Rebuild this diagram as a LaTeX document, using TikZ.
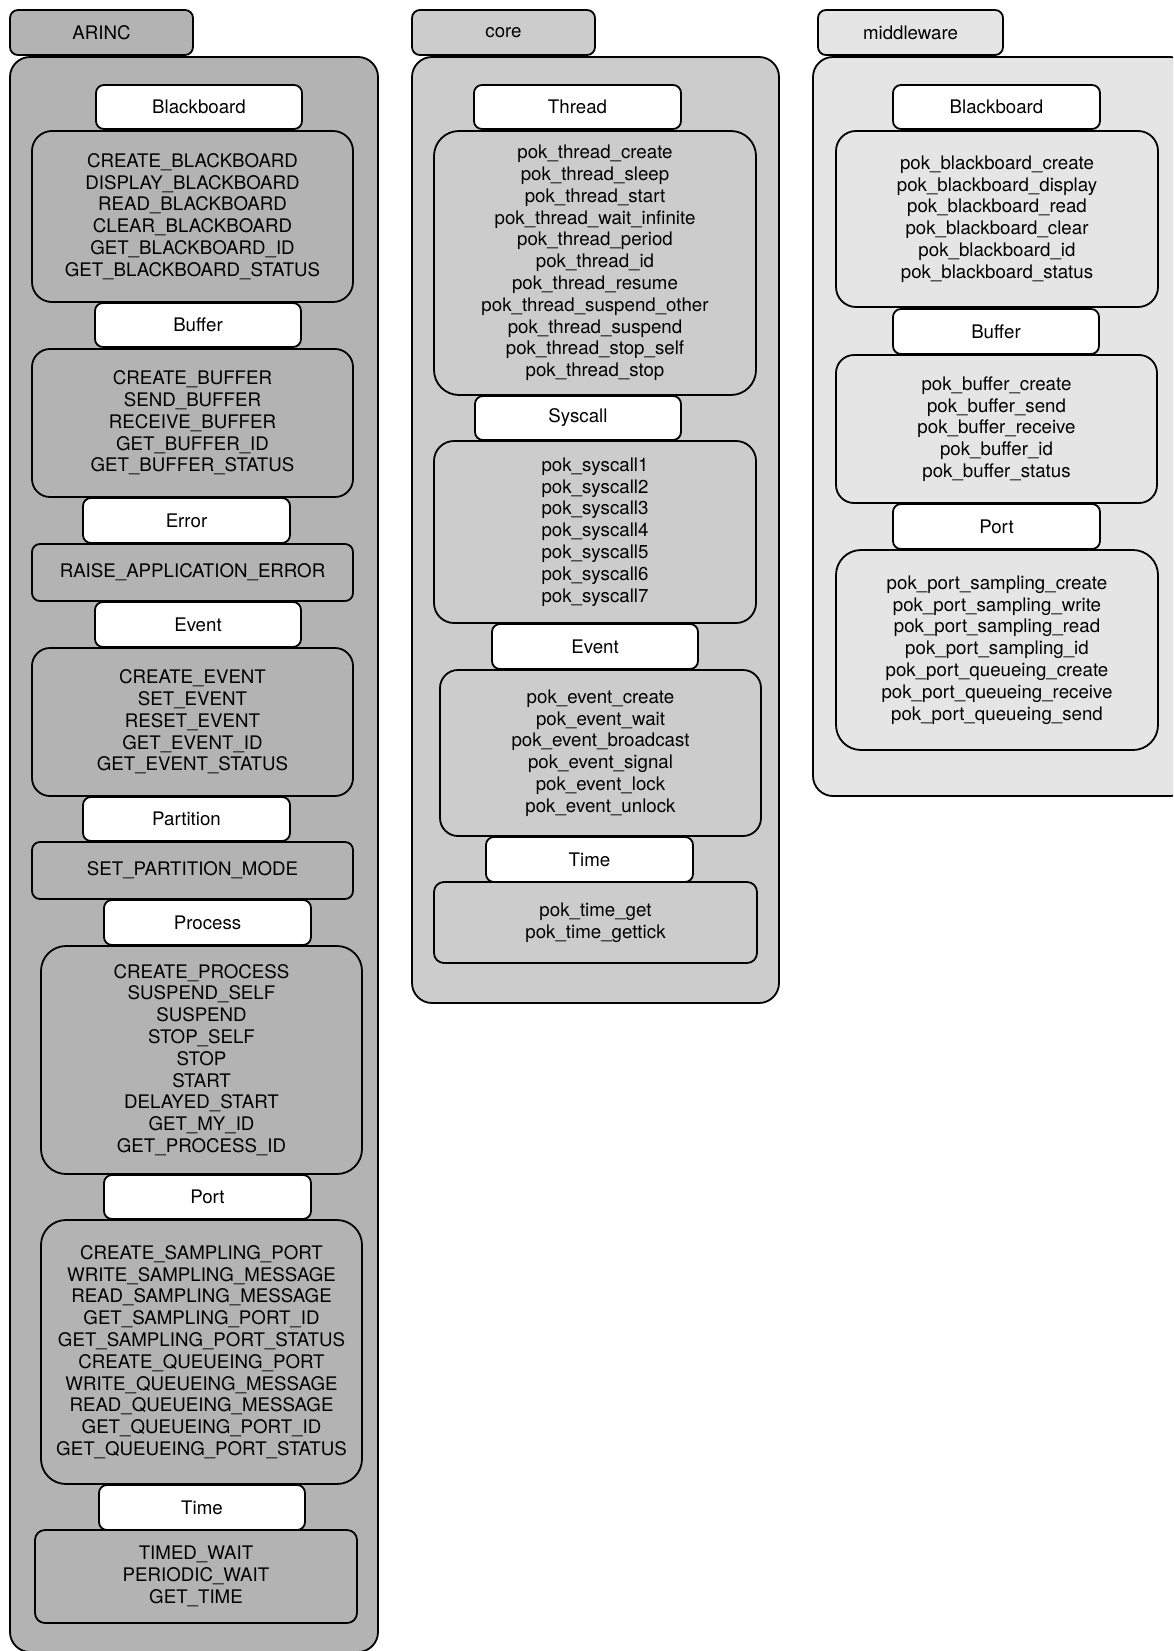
\documentclass[tikz,border=0pt]{standalone}
\usepackage{fontspec}
\setmainfont{TeX Gyre Heros}
\definecolor{arincgray}{HTML}{B3B3B3}
\definecolor{coregray}{HTML}{CCCCCC}
\definecolor{mwgray}{HTML}{E5E5E5}

\tikzset{
  base/.style={draw=black, line width=1.8pt, inner sep=0pt, align=center,
    font=\fontsize{18.7}{21.8}\selectfont},
  tabbox/.style={base, rounded corners=8pt},
  framebox/.style={base, rounded corners=20pt},
  titlebox/.style={base, fill=white, rounded corners=8pt},
  fnbox/.style={base, rounded corners=#1},
  fnbox/.default=20pt,
}

% \bx{name}{x1}{y1}{x2}{y2}{style}{text}: node filling the given box (y downwards)
\newcommand{\bx}[7]{%
  \pgfmathsetmacro\bxw{#4-#2}\pgfmathsetmacro\bxh{#5-#3}%
  \pgfmathsetmacro\bxcx{(#2+#4)/2}\pgfmathsetmacro\bxcy{(#3+#5)/2}%
  \node[#6, minimum width=\bxw pt, minimum height=\bxh pt] (#1) at (\bxcx,\bxcy) {#7};}

\begin{document}
\begin{tikzpicture}[x=1pt, y=-1pt]
\useasboundingbox (0,0) rectangle (1173,1651);
\clip (0,0) rectangle (1173,1651);

% ---------------- ARINC ----------------
\bx{arinc}{10}{57}{378}{1652}{framebox, fill=arincgray}{}
\bx{arinctab}{10}{10}{193}{55}{tabbox, fill=arincgray}{ARINC}

\bx{abbL}{32}{131}{353}{302}{fnbox=20pt, fill=arincgray}{CREATE\_BLACKBOARD\\DISPLAY\_BLACKBOARD\\READ\_BLACKBOARD\\CLEAR\_BLACKBOARD\\GET\_BLACKBOARD\_ID\\GET\_BLACKBOARD\_STATUS}
\bx{abb}{96}{85}{302}{129}{titlebox}{Blackboard}

\bx{abufL}{32}{349}{353}{497}{fnbox=18pt, fill=arincgray}{CREATE\_BUFFER\\SEND\_BUFFER\\RECEIVE\_BUFFER\\GET\_BUFFER\_ID\\GET\_BUFFER\_STATUS}
\bx{abuf}{95}{303}{301}{347}{titlebox}{Buffer}

\bx{aerrL}{32}{544}{353}{601}{fnbox=8pt, fill=arincgray}{RAISE\_APPLICATION\_ERROR}
\bx{aerr}{83}{498}{290}{543}{titlebox}{Error}

\bx{aevL}{32}{648}{353}{796}{fnbox=18pt, fill=arincgray}{CREATE\_EVENT\\SET\_EVENT\\RESET\_EVENT\\GET\_EVENT\_ID\\GET\_EVENT\_STATUS}
\bx{aev}{95}{602}{301}{647}{titlebox}{Event}

\bx{apartL}{32}{842}{353}{899}{fnbox=8pt, fill=arincgray}{SET\_PARTITION\_MODE}
\bx{apart}{83}{797}{290}{841}{titlebox}{Partition}

\bx{aprocL}{41}{946}{362}{1174}{fnbox=25pt, fill=arincgray}{CREATE\_PROCESS\\SUSPEND\_SELF\\SUSPEND\\STOP\_SELF\\STOP\\START\\DELAYED\_START\\GET\_MY\_ID\\GET\_PROCESS\_ID}
\bx{aproc}{104}{900}{311}{945}{titlebox}{Process}

\bx{aportL}{41}{1220}{362}{1484}{fnbox=25pt, fill=arincgray}{CREATE\_SAMPLING\_PORT\\WRITE\_SAMPLING\_MESSAGE\\READ\_SAMPLING\_MESSAGE\\GET\_SAMPLING\_PORT\_ID\\GET\_SAMPLING\_PORT\_STATUS\\CREATE\_QUEUEING\_PORT\\WRITE\_QUEUEING\_MESSAGE\\READ\_QUEUEING\_MESSAGE\\GET\_QUEUEING\_PORT\_ID\\GET\_QUEUEING\_PORT\_STATUS}
\bx{aport}{104}{1175}{311}{1219}{titlebox}{Port}

\bx{atimeL}{35}{1530}{357}{1623}{fnbox=10pt, fill=arincgray}{TIMED\_WAIT\\PERIODIC\_WAIT\\GET\_TIME}
\bx{atime}{99}{1485}{305}{1530}{titlebox}{Time}

% ---------------- core ----------------
\bx{core}{412}{57}{779}{1003}{framebox, fill=coregray}{}
\bx{coretab}{412}{10}{595}{55}{tabbox, fill=coregray}{core}

\bx{cthL}{434}{131}{756}{395}{fnbox=25pt, fill=coregray}{pok\_thread\_create\\pok\_thread\_sleep\\pok\_thread\_start\\pok\_thread\_wait\_infinite\\pok\_thread\_period\\pok\_thread\_id\\pok\_thread\_resume\\pok\_thread\_suspend\_other\\pok\_thread\_suspend\\pok\_thread\_stop\_self\\pok\_thread\_stop}
\bx{cth}{474}{85}{681}{129}{titlebox}{Thread}

\bx{csysL}{434}{441}{756}{623}{fnbox=20pt, fill=coregray}{pok\_syscall1\\pok\_syscall2\\pok\_syscall3\\pok\_syscall4\\pok\_syscall5\\pok\_syscall6\\pok\_syscall7}
\bx{csys}{475}{396}{681}{440}{titlebox}{Syscall}

\bx{cevL}{440}{670}{761}{836}{fnbox=18pt, fill=coregray}{pok\_event\_create\\pok\_event\_wait\\pok\_event\_broadcast\\pok\_event\_signal\\pok\_event\_lock\\pok\_event\_unlock}
\bx{cev}{492}{624}{698}{669}{titlebox}{Event}

\bx{ctimeL}{434}{882}{757}{963}{fnbox=10pt, fill=coregray}{pok\_time\_get\\pok\_time\_gettick}
\bx{ctime}{486}{837}{693}{882}{titlebox}{Time}

% ---------------- middleware ----------------
\bx{mw}{813}{57}{1190}{796}{framebox, fill=mwgray}{}
\bx{mwtab}{818}{10}{1003}{55}{tabbox, fill=mwgray}{middleware}

\bx{mbbL}{836}{131}{1158}{307}{fnbox=20pt, fill=mwgray}{pok\_blackboard\_create\\pok\_blackboard\_display\\pok\_blackboard\_read\\pok\_blackboard\_clear\\pok\_blackboard\_id\\pok\_blackboard\_status}
\bx{mbb}{893}{85}{1100}{129}{titlebox}{Blackboard}

\bx{mbufL}{836}{355}{1157}{503}{fnbox=18pt, fill=mwgray}{pok\_buffer\_create\\pok\_buffer\_send\\pok\_buffer\_receive\\pok\_buffer\_id\\pok\_buffer\_status}
\bx{mbuf}{893}{309}{1099}{354}{titlebox}{Buffer}

\bx{mportL}{836}{550}{1158}{750}{fnbox=25pt, fill=mwgray}{pok\_port\_sampling\_create\\pok\_port\_sampling\_write\\pok\_port\_sampling\_read\\pok\_port\_sampling\_id\\pok\_port\_queueing\_create\\pok\_port\_queueing\_receive\\pok\_port\_queueing\_send}
\bx{mport}{893}{504}{1100}{549}{titlebox}{Port}
\end{tikzpicture}
\end{document}
